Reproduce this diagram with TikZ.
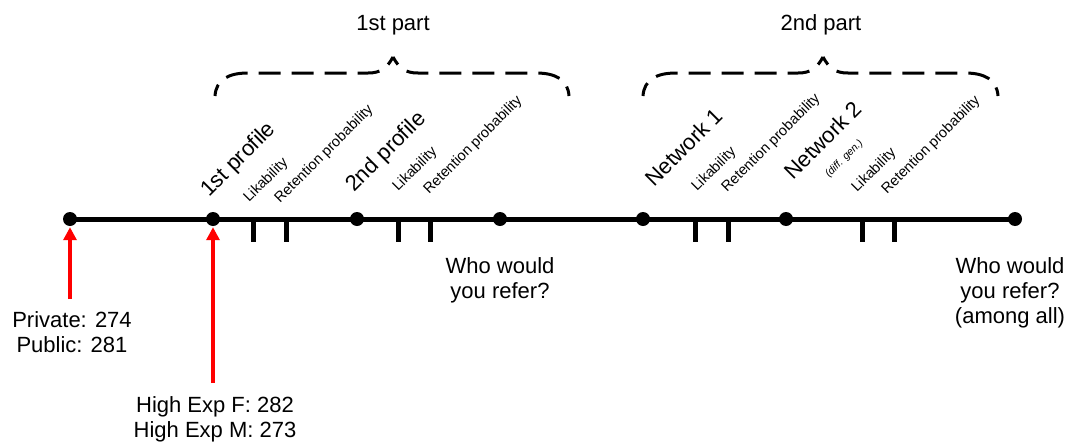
\documentclass[tikz,border=0pt]{standalone}
\usepackage{fontspec}
\setmainfont{Liberation Sans}
\usetikzlibrary{arrows.meta}
\begin{document}
\begin{tikzpicture}[x=1pt,y=1pt,
  dot/.style={circle,fill=black,inner sep=0pt,minimum size=14pt},
  timeline/.style={line width=5pt},
  tickmark/.style={line width=5pt},
  bigtext/.style={font=\fontsize{22}{25}\selectfont,align=center,inner sep=0pt},
  rotbig/.style={font=\fontsize{22}{24}\selectfont,rotate=45,anchor=base west,inner sep=0pt},
  rotsmall/.style={font=\fontsize{14.5}{16}\selectfont,rotate=45,anchor=base west,inner sep=0pt},
  rotnote/.style={font=\fontsize{10.5}{12}\selectfont\itshape,rotate=45,anchor=base west,inner sep=0pt},
  bracepath/.style={line width=3pt,dash pattern=on 22pt off 11pt,dash phase=13pt,line cap=butt},
  redarrow/.style={draw=red,line width=4pt,-{Triangle[width=13pt,length=13pt,fill=red]},shorten >=1pt}
]
\useasboundingbox (0,0) rectangle (1070,-442);

% dashed curly braces over the two parts (left end, tip, right end);
% each half starts at the tip so that the tip is one short dash
\newcommand\partbrace[3]{%
  \draw[bracepath] (#2,-57) .. controls (#2-6,-68) and (#2-12,-73) .. (#2-25,-73)
    -- (#1+33,-73) .. controls (#1+13,-73) and (#1+1,-80) .. (#1,-96);
  \draw[bracepath] (#2,-57) .. controls (#2+6,-68) and (#2+12,-73) .. (#2+25,-73)
    -- (#3-33,-73) .. controls (#3-13,-73) and (#3-1,-80) .. (#3,-96);}
\partbrace{215}{393}{569}
\partbrace{643}{823}{998}

\node[bigtext,anchor=base] (p1) at (393,-30) {1st part};
\node[bigtext,anchor=base] (p2) at (821,-30) {2nd part};

% events along the time line
\node[dot] (d1) at (70,-219) {};
\node[dot] (d2) at (213,-219) {};
\node[dot] (d3) at (357,-219) {};
\node[dot] (d4) at (500,-219) {};
\node[dot] (d5) at (643,-219) {};
\node[dot] (d6) at (786,-219) {};
\node[dot] (d7) at (1015,-219) {};
\draw[timeline] (d1.center) -- (d7.center);

% rating ticks
\foreach \x in {253,286,398,430,695,728,862,894}
  \draw[tickmark] (\x,-217) -- (\x,-242);

% rotated labels
\node[rotbig]   (l1)  at (209,-198) {1st profile};
\node[rotsmall] (l2)  at (249,-203) {Likability};
\node[rotsmall] (l3)  at (280,-204) {Retention probability};
\node[rotbig]   (l4)  at (354,-193) {2nd profile};
\node[rotsmall] (l5)  at (398,-192) {Likability};
\node[rotsmall] (l6)  at (429,-195) {Retention probability};
\node[rotbig]   (l7)  at (654,-188) {Network 1};
\node[rotsmall] (l8)  at (697,-192) {Likability};
\node[rotsmall] (l9)  at (727,-193) {Retention probability};
\node[rotbig]   (l10) at (793,-181) {Network 2};
\node[rotnote]  (l11) at (829,-178) {(diff. gen.)};
\node[rotsmall] (l12) at (857,-193) {Likability};
\node[rotsmall] (l13) at (887,-195) {Retention probability};

% question texts
\node[bigtext,anchor=north] (q1) at (500,-257) {Who would\\you refer?};
\node[bigtext,anchor=north] (q2) at (1010,-257) {Who would\\you refer?\\(among all)};

% sample sizes
\coordinate (a1) at (70,-299);
\coordinate (a2) at (213,-383);
\draw[redarrow] (a1) -- (d1);
\draw[redarrow] (a2) -- (d2);
\node[bigtext,anchor=north] (n1) at (72,-311) {Private: 274\\Public: 281};
\node[bigtext,anchor=north] (n2) at (215,-396) {High Exp F: 282\\High Exp M: 273};
\end{tikzpicture}
\end{document}
